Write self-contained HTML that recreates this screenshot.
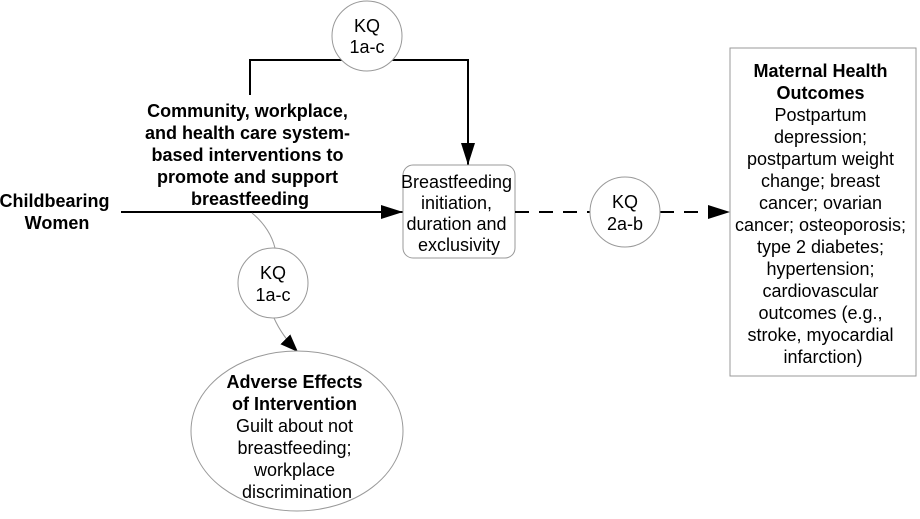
<!DOCTYPE html>
<html><head><meta charset="utf-8"><style>
html,body{margin:0;padding:0;background:#fff;}
svg{display:block;}
text{font-family:"Liberation Sans",sans-serif;}
</style></head><body>
<svg width="920" height="519" viewBox="0 0 920 519" xmlns="http://www.w3.org/2000/svg" font-family="Liberation Sans, sans-serif">
<defs>
<marker id="ah" markerWidth="22" markerHeight="14" refX="22" refY="7" orient="auto" markerUnits="userSpaceOnUse">
<path d="M0,0 L22,7 L0,14 z" fill="#000"/></marker>
<marker id="ah2" markerWidth="18" markerHeight="14" refX="18" refY="7" orient="auto" markerUnits="userSpaceOnUse">
<path d="M0,0 L18,7 L0,14 z" fill="#000"/></marker>
</defs>
<polyline points="250,95 250,60 468,60 468,165" fill="none" stroke="#000" stroke-width="2" marker-end="url(#ah)"/>
<circle cx="367" cy="36" r="35" fill="#fff" stroke="#999" stroke-width="1"/>
<text x="367" y="32" font-size="18" text-anchor="middle">KQ</text>
<text x="367" y="53" font-size="18" text-anchor="middle">1a-c</text>
<line x1="121" y1="212" x2="403" y2="212" stroke="#000" stroke-width="2" marker-end="url(#ah)"/>
<text font-size="18" font-weight="bold" text-anchor="middle">
<tspan x="250" y="117">Community, workplace,</tspan>
<tspan x="250" y="139">and health care system-</tspan>
<tspan x="250" y="161">based interventions to</tspan>
<tspan x="250" y="183">promote and support</tspan>
<tspan x="250" y="205">breastfeeding</tspan>
</text>
<text font-size="18" font-weight="bold" text-anchor="middle">
<tspan x="57" y="207">Childbearing</tspan>
<tspan x="57" y="229">Women</tspan>
</text>
<rect x="403" y="165" width="112" height="93" rx="10" fill="#fff" stroke="#999"/>
<text font-size="18" text-anchor="middle">
<tspan x="459" y="188">Breastfeeding</tspan>
<tspan x="459" y="209">initiation,</tspan>
<tspan x="459" y="230">duration and</tspan>
<tspan x="459" y="251">exclusivity</tspan>
</text>
<line x1="515" y1="212" x2="590" y2="212" stroke="#000" stroke-width="2" stroke-dasharray="14,10"/>
<line x1="660" y1="212" x2="730" y2="212" stroke="#000" stroke-width="2" stroke-dasharray="14,10" marker-end="url(#ah)"/>
<circle cx="625" cy="212" r="35" fill="#fff" stroke="#999"/>
<text x="625" y="208" font-size="18" text-anchor="middle">KQ</text>
<text x="625" y="230" font-size="18" text-anchor="middle">2a-b</text>
<rect x="730" y="48" width="186" height="328" fill="#fff" stroke="#999"/>
<text font-size="18" text-anchor="middle">
<tspan x="823" y="77" font-weight="bold">Maternal Health</tspan>
<tspan x="823" y="99" font-weight="bold">Outcomes</tspan>
<tspan x="823" y="121">Postpartum</tspan>
<tspan x="823" y="143">depression;</tspan>
<tspan x="823" y="165">postpartum weight</tspan>
<tspan x="823" y="187">change; breast</tspan>
<tspan x="823" y="209">cancer; ovarian</tspan>
<tspan x="823" y="231">cancer; osteoporosis;</tspan>
<tspan x="823" y="253">type 2 diabetes;</tspan>
<tspan x="823" y="275">hypertension;</tspan>
<tspan x="823" y="297">cardiovascular</tspan>
<tspan x="823" y="319">outcomes (e.g.,</tspan>
<tspan x="823" y="341">stroke, myocardial</tspan>
<tspan x="823" y="363">infarction)</tspan>
</text>
<path d="M252,213 Q270,228 275,248" fill="none" stroke="#999" stroke-width="1"/>
<path d="M274,318 Q282,336 298,352" fill="none" stroke="#999" stroke-width="1" marker-end="url(#ah2)"/>
<circle cx="273" cy="283" r="35" fill="#fff" stroke="#999"/>
<text x="273" y="279" font-size="18" text-anchor="middle">KQ</text>
<text x="273" y="301" font-size="18" text-anchor="middle">1a-c</text>
<ellipse cx="297" cy="431" rx="106" ry="80" fill="#fff" stroke="#999"/>
<text font-size="18" text-anchor="middle">
<tspan x="297" y="388" font-weight="bold">Adverse Effects</tspan>
<tspan x="297" y="410" font-weight="bold">of Intervention</tspan>
<tspan x="297" y="432">Guilt about not</tspan>
<tspan x="297" y="454">breastfeeding;</tspan>
<tspan x="297" y="476">workplace</tspan>
<tspan x="297" y="498">discrimination</tspan>
</text>
</svg>
</body></html>
